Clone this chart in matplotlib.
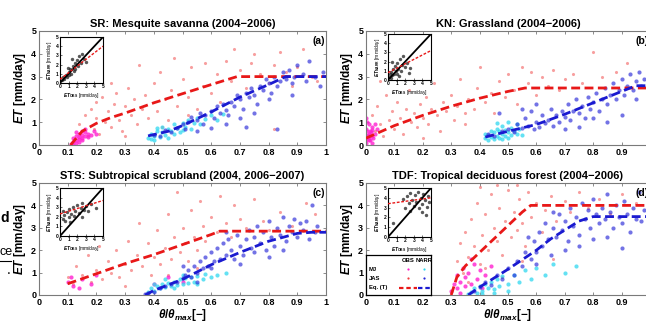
import matplotlib
matplotlib.use("Agg")
import matplotlib.pyplot as plt
from matplotlib.lines import Line2D

plt.rcParams['font.family'] = ['Liberation Sans', 'DejaVu Sans']
plt.rcParams['mathtext.fontset'] = 'custom'
plt.rcParams['mathtext.it'] = 'Liberation Sans:bold:italic'
plt.rcParams['mathtext.rm'] = 'Liberation Sans:bold'
plt.rcParams['mathtext.bf'] = 'Liberation Sans:bold'

titles = ["SR: Mesquite savanna (2004\u22122006)", "KN: Grassland (2004\u22122006)",
          "STS: Subtropical scrubland (2004, 2006\u22122007)", "TDF: Tropical deciduous forest (2004\u22122006)"]
panel_tags = ["(a)", "(b)", "(c)", "(d)"]
xticks = [0, 0.1, 0.2, 0.3, 0.4, 0.5, 0.6, 0.7, 0.8, 0.9, 1]
xticklabels = ["0", "0.1", "0.2", "0.3", "0.4", "0.5", "0.6", "0.7", "0.8", "0.9", "1"]
yticks = [0, 1, 2, 3, 4, 5]

# ---- SR ----
sr_obs_mj = [(0.11,0.05),(0.12,0.15),(0.12,0.3),(0.13,0.2),(0.13,0.4),(0.13,0.1),(0.14,0.35),(0.14,0.5),
             (0.14,0.25),(0.15,0.45),(0.15,0.3),(0.15,0.6),(0.16,0.4),(0.16,0.55),(0.17,0.35),(0.17,0.5),
             (0.18,0.45),(0.12,0.0),(0.14,0.15),(0.16,0.7),(0.13,0.55),(0.15,0.2),(0.19,0.6),(0.2,0.5)]
sr_obs_jas = [(0.14,0.9),(0.16,1.3),(0.17,0.4),(0.18,1.6),(0.19,0.7),(0.2,1.9),(0.2,1.2),(0.21,0.5),(0.22,2.1),
              (0.23,1.0),(0.24,1.5),(0.25,0.8),(0.26,1.8),(0.27,2.3),(0.28,1.1),(0.29,0.6),(0.3,1.7),(0.31,2.5),
              (0.32,1.3),(0.33,2.0),(0.34,0.9),(0.35,3.5),(0.36,1.6),(0.37,2.2),(0.38,1.2),(0.4,2.7),(0.41,1.5),
              (0.42,3.2),(0.44,2.0),(0.45,1.1),(0.46,2.4),(0.47,3.8),(0.48,1.7),(0.5,2.9),(0.52,2.1),(0.53,3.4),
              (0.55,1.6),(0.57,2.6),(0.58,3.6),(0.6,2.3),(0.62,3.1),(0.63,1.9),(0.65,3.7),(0.67,2.8),(0.68,4.2),
              (0.7,3.3),(0.72,2.5),(0.74,3.6),(0.75,4.0),(0.77,3.1),(0.8,2.7),(0.82,3.5),(0.84,4.1),(0.86,3.2),
              (0.88,2.6),(0.9,3.4),(0.92,4.2),(0.95,3.0),(0.97,2.8),(0.82,0.7),(0.3,0.4),(0.25,2.7),(0.43,0.8),(0.52,1.3)]
sr_narr_mj = [(0.38,0.3),(0.39,0.5),(0.4,0.2),(0.4,0.4),(0.41,0.6),(0.42,0.35),(0.43,0.55),(0.43,0.8),(0.44,0.45),
              (0.45,0.7),(0.45,0.3),(0.46,0.6),(0.47,0.9),(0.47,0.5),(0.48,0.75),(0.49,0.55),(0.5,0.95),(0.5,0.65),
              (0.51,0.8),(0.52,1.1),(0.53,0.7),(0.54,0.95),(0.55,1.2),(0.56,0.9),(0.58,1.15),(0.6,1.3),(0.62,1.1),
              (0.64,1.35),(0.41,0.75),(0.39,0.25)]
sr_narr_jas = [(0.4,0.45),(0.42,0.4),(0.44,0.65),(0.46,0.55),(0.48,0.75),(0.5,0.9),(0.51,0.7),(0.52,1.0),(0.53,1.25),
               (0.55,1.1),(0.56,1.4),(0.57,0.9),(0.58,1.3),(0.6,1.5),(0.61,1.2),(0.62,1.7),(0.63,1.4),(0.64,1.8),
               (0.65,1.55),(0.66,1.3),(0.67,1.9),(0.68,1.7),(0.69,2.2),(0.7,2.0),(0.71,1.6),(0.72,2.3),(0.73,2.1),
               (0.74,2.5),(0.75,2.2),(0.76,1.8),(0.77,2.6),(0.78,2.4),(0.79,2.9),(0.8,2.7),(0.81,2.3),(0.82,3.0),
               (0.83,2.6),(0.84,2.8),(0.85,3.2),(0.86,2.9),(0.87,3.3),(0.88,2.7),(0.89,3.0),(0.9,3.5),(0.92,3.1),
               (0.93,2.8),(0.94,3.7),(0.96,3.0),(0.98,2.6),(0.99,3.2),(0.65,0.9),(0.72,0.8),(0.6,0.75),(0.55,0.6),
               (0.75,1.4),(0.83,0.7),(0.7,1.2),(0.8,2.0),(0.88,2.2)]
sr_eq_obs_x = [0.11, 0.15, 0.2, 0.25, 0.3, 0.4, 0.5, 0.6, 0.69, 1.0]
sr_eq_obs_y = [0.0, 0.6, 0.95, 1.2, 1.4, 1.85, 2.25, 2.65, 3.0, 3.0]
sr_eq_narr_x = [0.38, 0.45, 0.5, 0.55, 0.6, 0.7, 0.8, 0.86, 1.0]
sr_eq_narr_y = [0.4, 0.6, 0.85, 1.15, 1.45, 2.1, 2.65, 3.0, 3.0]
sr_inset = [(0.2,0.3),(0.4,0.6),(0.5,0.4),(0.7,0.9),(0.8,0.6),(1.0,1.2),(1.1,0.9),(1.2,1.5),(1.3,1.0),(1.5,1.8),
            (1.6,1.3),(1.7,2.2),(1.8,1.5),(2.0,2.5),(2.1,1.8),(2.2,2.9),(2.4,2.2),(2.6,3.2),(2.8,2.6),(3.0,2.3),
            (1.4,2.6),(0.9,1.6)]
sr_fit_x = [0, 5]
sr_fit_y = [0.4, 4.0]

# ---- KN ----
kn_obs_mj = [(0.0,0.1),(0.005,0.3),(0.01,0.5),(0.0,0.7),(0.015,0.2),(0.02,0.4),(0.01,0.9),(0.005,0.6),(0.02,0.8),
             (0.025,0.3),(0.0,0.4),(0.01,0.2),(0.015,0.6),(0.005,1.0),(0.02,0.1),(0.03,0.5),(0.0,0.2),(0.012,0.35),
             (0.018,0.55),(0.008,0.45),(0.04,0.7),(0.03,0.9),(0.0,1.2),(0.02,0.65)]
kn_obs_jas = [(0.02,1.3),(0.03,0.6),(0.04,1.7),(0.05,0.9),(0.06,0.4),(0.07,2.2),(0.08,1.1),(0.09,1.5),(0.1,0.7),
              (0.11,1.9),(0.12,1.2),(0.13,0.5),(0.14,1.6),(0.15,2.4),(0.16,1.0),(0.17,1.4),(0.18,0.8),(0.19,1.8),
              (0.2,1.2),(0.21,2.1),(0.22,0.9),(0.23,1.6),(0.24,2.7),(0.25,1.3),(0.26,0.6),(0.27,1.9),(0.28,1.5),
              (0.3,2.2),(0.31,1.1),(0.32,1.7),(0.33,2.9),(0.35,1.4),(0.36,2.0),(0.38,1.6),(0.39,2.5),(0.4,3.4),
              (0.42,1.9),(0.44,2.3),(0.45,1.4),(0.47,2.8),(0.49,2.1),(0.5,3.1),(0.52,2.4),(0.53,1.8),(0.55,3.4),
              (0.57,2.7),(0.58,3.2),(0.6,2.2),(0.62,3.0),(0.64,2.6),(0.66,3.3),(0.68,2.4),(0.7,2.9),(0.73,3.1),
              (0.76,2.7),(0.8,4.1),(0.83,3.0),(0.88,3.2),(0.92,3.6),(0.05,2.8),(0.12,3.1),(0.2,0.3),(0.35,0.9)]
kn_narr_mj = [(0.42,0.3),(0.43,0.2),(0.43,0.45),(0.44,0.35),(0.45,0.25),(0.45,0.55),(0.46,0.4),(0.46,0.7),(0.47,0.3),
              (0.47,0.6),(0.48,0.5),(0.48,0.85),(0.49,0.4),(0.49,0.65),(0.5,0.55),(0.5,0.3),(0.51,0.75),(0.51,0.45),
              (0.52,0.6),(0.53,0.9),(0.53,0.5),(0.54,0.7),(0.55,0.45),(0.44,0.6),(0.46,0.95),(0.5,1.0),(0.42,0.5),(0.48,0.25)]
kn_narr_jas = [(0.43,0.5),(0.45,0.4),(0.47,1.4),(0.48,0.6),(0.5,0.7),(0.52,0.55),(0.53,0.9),(0.55,0.75),(0.56,1.2),
               (0.57,0.85),(0.58,1.5),(0.59,0.7),(0.6,1.0),(0.61,0.8),(0.62,1.3),(0.63,0.95),(0.64,1.1),(0.65,1.6),
               (0.66,0.85),(0.67,1.3),(0.68,1.0),(0.69,1.5),(0.7,1.25),(0.71,1.8),(0.72,1.1),(0.73,1.5),(0.74,2.0),
               (0.75,1.4),(0.76,1.7),(0.77,1.2),(0.78,2.1),(0.79,1.6),(0.8,1.9),(0.81,2.3),(0.82,1.5),(0.83,2.0),
               (0.84,2.5),(0.85,1.8),(0.86,2.2),(0.87,2.7),(0.88,2.0),(0.89,2.4),(0.9,2.9),(0.91,2.2),(0.92,2.6),
               (0.93,3.1),(0.94,2.4),(0.95,2.8),(0.96,3.2),(0.97,2.6),(0.98,2.9),(0.9,1.3),(0.85,1.0),(0.75,0.8),
               (0.55,1.6),(0.6,1.8),(0.7,0.7),(0.8,1.2),(0.95,2.0)]
kn_eq_obs_x = [0.0, 0.1, 0.2, 0.3, 0.4, 0.5, 0.56, 1.0]
kn_eq_obs_y = [0.3, 0.85, 1.3, 1.7, 2.05, 2.35, 2.5, 2.5]
kn_eq_narr_x = [0.42, 0.5, 0.6, 0.7, 0.8, 0.9, 0.95, 1.0]
kn_eq_narr_y = [0.35, 0.6, 0.9, 1.35, 1.85, 2.35, 2.6, 2.6]
kn_inset = [(0.1,0.3),(0.2,0.6),(0.3,0.2),(0.4,0.9),(0.5,0.5),(0.6,1.2),(0.7,0.7),(0.8,1.5),(0.9,1.0),(1.0,0.6),
            (1.1,1.8),(1.2,1.2),(1.4,2.3),(1.5,1.0),(1.6,1.6),(1.8,2.6),(2.0,1.4),(2.2,1.9),(2.4,0.8),(2.6,1.3),
            (1.3,0.4),(0.5,2.0)]
kn_fit_x = [0, 5]
kn_fit_y = [0.8, 3.2]

# ---- STS ----
sts_obs_mj = [(0.1,0.6),(0.12,0.4),(0.15,0.7),(0.11,0.8),(0.18,0.5),(0.14,0.3),(0.2,0.9),(0.4,0.5),(0.45,0.8),(0.5,0.6)]
sts_obs_jas = [(0.1,0.8),(0.12,0.5),(0.13,1.3),(0.15,0.9),(0.17,1.8),(0.18,0.6),(0.2,1.1),(0.21,2.2),(0.22,0.7),
               (0.24,1.5),(0.25,1.0),(0.27,2.0),(0.28,0.8),(0.3,1.4),(0.31,2.4),(0.32,1.1),(0.34,1.8),(0.35,3.2),
               (0.36,1.3),(0.38,2.3),(0.39,0.9),(0.4,1.7),(0.41,2.9),(0.42,1.4),(0.44,2.1),(0.45,3.6),(0.46,1.6),
               (0.47,2.6),(0.48,4.6),(0.49,1.9),(0.5,3.0),(0.51,2.3),(0.52,1.5),(0.53,3.8),(0.54,2.6),(0.55,2.0),
               (0.56,4.2),(0.57,3.1),(0.58,2.4),(0.6,3.5),(0.62,2.8),(0.63,4.4),(0.65,3.2),(0.67,2.6),(0.68,4.0),
               (0.7,3.4),(0.72,3.0),(0.75,4.3),(0.78,3.3),(0.8,2.9),(0.84,3.7),(0.88,3.1),(0.93,4.1),(0.96,3.6),
               (0.3,0.4),(0.45,0.9),(0.2,2.8),(0.55,1.2)]
sts_narr_mj = [(0.38,0.15),(0.39,0.3),(0.4,0.2),(0.41,0.4),(0.42,0.3),(0.43,0.5),(0.44,0.35),(0.45,0.55),(0.46,0.4),
               (0.47,0.6),(0.48,0.45),(0.49,0.7),(0.5,0.5),(0.51,0.75),(0.52,0.55),(0.53,0.8),(0.54,0.6),(0.55,0.85),
               (0.57,0.7),(0.58,0.95),(0.6,0.8),(0.62,0.9),(0.44,0.7),(0.4,0.5),(0.47,0.3),(0.5,0.9),(0.55,0.5),(0.65,1.0)]
sts_narr_jas = [(0.37,0.05),(0.38,0.1),(0.4,0.15),(0.42,0.3),(0.44,0.4),(0.46,0.5),(0.48,0.6),(0.5,0.75),(0.51,0.9),
                (0.52,1.1),(0.53,0.8),(0.54,1.3),(0.55,1.0),(0.56,1.5),(0.57,1.2),(0.58,1.7),(0.59,1.3),(0.6,1.9),
                (0.61,1.5),(0.62,2.1),(0.63,1.6),(0.64,2.3),(0.65,1.8),(0.66,2.5),(0.67,2.0),(0.68,1.6),(0.69,2.7),
                (0.7,2.2),(0.71,1.8),(0.72,2.5),(0.73,2.9),(0.74,2.1),(0.75,2.6),(0.76,3.1),(0.77,2.3),(0.78,2.8),
                (0.79,2.0),(0.8,3.3),(0.81,2.6),(0.82,2.2),(0.83,3.0),(0.84,2.7),(0.85,3.5),(0.86,2.4),(0.87,3.1),
                (0.88,2.8),(0.89,3.4),(0.9,2.6),(0.91,3.2),(0.92,2.9),(0.93,3.3),(0.94,2.5),(0.95,4.0),(0.96,2.8),
                (0.97,3.1),(0.6,1.2),(0.65,2.8),(0.7,1.4),(0.75,1.9),(0.8,1.7),(0.85,2.0),(0.55,0.6),(0.5,1.3)]
sts_eq_obs_x = [0.1, 0.2, 0.3, 0.4, 0.5, 0.6, 0.63, 1.0]
sts_eq_obs_y = [0.5, 0.95, 1.4, 1.8, 2.25, 2.7, 2.85, 2.85]
sts_eq_narr_x = [0.37, 0.4, 0.45, 0.5, 0.6, 0.7, 0.8, 0.9, 0.95, 1.0]
sts_eq_narr_y = [0.0, 0.2, 0.45, 0.7, 1.35, 1.9, 2.4, 2.75, 2.8, 2.8]
sts_inset = [(0.3,1.8),(0.5,2.2),(0.6,1.6),(0.8,2.5),(1.0,2.0),(1.1,2.8),(1.3,2.3),(1.5,3.0),(1.6,2.1),(1.8,2.6),
             (2.0,3.2),(2.2,2.4),(2.4,2.9),(2.6,3.4),(2.8,2.7),(3.0,3.1),(3.3,2.6),(3.6,3.3),(0.4,2.6),(1.2,1.5),
             (2.5,2.0),(4.2,2.9)]
sts_fit_x = [0, 5]
sts_fit_y = [2.3, 3.7]

# ---- TDF ----
tdf_obs_mj = [(0.3,0.2),(0.31,0.5),(0.32,0.3),(0.32,0.9),(0.33,0.6),(0.34,1.2),(0.35,0.4),(0.35,0.8),(0.36,1.0),
              (0.37,0.5),(0.38,1.4),(0.39,0.7),(0.4,1.1),(0.41,0.3),(0.42,0.9),(0.33,0.1),(0.37,1.6),(0.44,1.3)]
tdf_obs_jas = [(0.32,1.5),(0.33,2.3),(0.34,1.0),(0.35,2.8),(0.36,1.7),(0.37,3.4),(0.38,2.2),(0.39,4.1),(0.4,1.4),
               (0.41,2.7),(0.42,3.6),(0.43,2.0),(0.44,4.5),(0.45,3.0),(0.46,2.4),(0.47,3.9),(0.48,1.8),(0.49,3.3),
               (0.5,4.7),(0.51,2.6),(0.52,3.7),(0.53,2.9),(0.54,4.3),(0.55,3.2),(0.56,2.2),(0.57,4.6),(0.58,3.5),
               (0.6,4.1),(0.62,2.8),(0.63,3.8),(0.65,4.4),(0.67,3.3),(0.7,4.2),(0.72,3.7),(0.75,4.6),(0.78,3.9),
               (0.82,4.3),(0.86,3.6),(0.9,4.5),(0.95,4.1),(0.36,0.6),(0.42,1.2),(0.48,0.8),(0.55,1.5),(0.6,2.0),
               (0.66,1.6),(0.4,4.8),(0.46,4.9),(0.53,4.9)]
tdf_narr_mj = [(0.36,0.05),(0.37,0.15),(0.38,0.3),(0.39,0.1),(0.4,0.4),(0.41,0.2),(0.42,0.5),(0.43,0.3),(0.44,0.6),
               (0.45,0.25),(0.46,0.7),(0.47,0.4),(0.48,0.85),(0.5,0.5),(0.52,0.9),(0.54,0.6),(0.56,1.1),(0.58,0.7),
               (0.6,1.2),(0.63,0.9),(0.66,1.4),(0.7,1.0),(0.74,1.3),(0.41,0.05),(0.45,0.1),(0.5,0.2)]
tdf_narr_jas = [(0.38,0.2),(0.4,0.35),(0.42,0.6),(0.44,0.45),(0.46,0.9),(0.48,0.7),(0.5,1.2),(0.52,0.9),(0.53,1.5),
                (0.55,1.3),(0.56,1.9),(0.58,1.6),(0.59,2.4),(0.6,1.9),(0.61,2.8),(0.62,2.2),(0.63,3.2),(0.64,2.5),
                (0.65,1.8),(0.66,3.0),(0.67,2.6),(0.68,3.6),(0.69,2.9),(0.7,3.3),(0.71,2.4),(0.72,3.9),(0.73,3.1),
                (0.74,3.5),(0.75,2.7),(0.76,4.1),(0.77,3.4),(0.78,3.8),(0.79,3.0),(0.8,4.3),(0.81,3.6),(0.82,3.2),
                (0.83,3.9),(0.84,3.4),(0.85,4.5),(0.86,3.7),(0.87,3.0),(0.88,4.0),(0.89,3.5),(0.9,3.2),(0.91,4.2),
                (0.92,3.6),(0.93,2.8),(0.94,3.9),(0.95,3.4),(0.96,4.6),(0.97,3.3),(0.98,3.8),(0.7,2.0),(0.75,2.2),
                (0.8,2.5),(0.85,2.6),(0.9,2.1),(0.57,2.6),(0.6,1.4),(0.66,3.7)]
tdf_eq_obs_x = [0.3, 0.32, 0.35, 0.4, 0.45, 0.5, 0.55, 0.58, 1.0]
tdf_eq_obs_y = [0.0, 0.8, 1.3, 1.9, 2.5, 3.1, 3.7, 4.0, 4.0]
tdf_eq_narr_x = [0.36, 0.4, 0.5, 0.6, 0.65, 0.7, 0.75, 0.8, 1.0]
tdf_eq_narr_y = [0.0, 0.35, 1.15, 2.0, 2.5, 2.9, 3.3, 3.5, 3.5]
tdf_inset = [(0.6,1.4),(1.8,3.9),(2.0,3.0),(2.2,4.2),(2.4,3.5),(2.6,4.5),(2.8,3.8),(3.0,3.2),(3.1,4.3),(3.3,3.6),
             (3.5,4.6),(3.6,3.0),(3.8,4.0),(4.0,3.4),(4.1,4.4),(4.3,3.8),(4.5,3.1),(4.6,4.2),(4.8,3.6),(2.5,2.7),
             (3.9,2.6),(4.4,2.2)]
tdf_fit_x = [0, 5]
tdf_fit_y = [3.4, 4.0]
inset_ticks = [0, 1, 2, 3, 4, 5]

C_MJ_OBS = '#ff20d0'
C_JAS_OBS = '#f04040'
C_MJ_NARR = '#30d8f0'
C_JAS_NARR = '#2828d8'
C_EQ_OBS = '#e81818'
C_EQ_NARR = '#1a1ad0'
GRAY = '#7a7a7a'

W, H = 646.0, 323.0
def fr(x, y, w, h):
    return [x / W, 1 - (y + h) / H, w / W, h / H]

fig = plt.figure(figsize=(6.46, 3.23), dpi=100)
main_rects = [fr(39, 31, 287, 114), fr(366, 31, 284, 114), fr(39, 183, 287, 112), fr(366, 183, 284, 112)]
inset_rects = [fr(60, 37, 43, 46), fr(388, 34, 43, 46), fr(60, 188, 43, 48), fr(388, 188, 43, 49)]

panels = [
    (sr_obs_mj, sr_obs_jas, sr_narr_mj, sr_narr_jas, sr_eq_obs_x, sr_eq_obs_y, sr_eq_narr_x, sr_eq_narr_y, sr_inset, sr_fit_x, sr_fit_y),
    (kn_obs_mj, kn_obs_jas, kn_narr_mj, kn_narr_jas, kn_eq_obs_x, kn_eq_obs_y, kn_eq_narr_x, kn_eq_narr_y, kn_inset, kn_fit_x, kn_fit_y),
    (sts_obs_mj, sts_obs_jas, sts_narr_mj, sts_narr_jas, sts_eq_obs_x, sts_eq_obs_y, sts_eq_narr_x, sts_eq_narr_y, sts_inset, sts_fit_x, sts_fit_y),
    (tdf_obs_mj, tdf_obs_jas, tdf_narr_mj, tdf_narr_jas, tdf_eq_obs_x, tdf_eq_obs_y, tdf_eq_narr_x, tdf_eq_narr_y, tdf_inset, tdf_fit_x, tdf_fit_y),
]

def xy(pts):
    return [p[0] for p in pts], [p[1] for p in pts]

for i, (omj, ojas, nmj, njas, eox, eoy, enx, eny, ins, fx, fy) in enumerate(panels):
    ax = fig.add_axes(main_rects[i])
    x, y = xy(ojas); ax.scatter(x, y, s=5, c=C_JAS_OBS, alpha=0.5, linewidths=0, zorder=2)
    x, y = xy(omj); ax.scatter(x, y, s=9, c=C_MJ_OBS, alpha=0.8, linewidths=0, zorder=2)
    x, y = xy(nmj); ax.scatter(x, y, s=9, c=C_MJ_NARR, alpha=0.75, linewidths=0, zorder=2)
    x, y = xy(njas); ax.scatter(x, y, s=9, c=C_JAS_NARR, alpha=0.65, linewidths=0, zorder=2)
    ax.plot(eox, eoy, color=C_EQ_OBS, lw=2.0, dashes=(3.2, 1.6), zorder=3)
    ax.plot(enx, eny, color=C_EQ_NARR, lw=2.0, dashes=(3.2, 1.6), zorder=3)
    ax.set_xlim(0, 1)
    ax.set_ylim(0, 5)
    ax.set_xticks(xticks)
    ax.set_xticklabels(xticklabels, fontsize=6.5, fontweight='bold')
    ax.set_yticks(yticks)
    ax.set_yticklabels([str(v) for v in yticks], fontsize=6.5, fontweight='bold')
    ax.tick_params(direction='in', top=True, right=True, length=2.5, width=0.6, color=GRAY, pad=2)
    for sp in ax.spines.values():
        sp.set_color(GRAY)
        sp.set_linewidth(0.8)
    ax.set_title(titles[i], fontsize=8, fontweight='bold', pad=3)
    ax.set_ylabel(r'$ET$ [mm/day]', fontsize=8.5, fontweight='bold', labelpad=2)
    if i >= 2:
        ax.set_xlabel(r'$\theta/\theta_{max}$' + '[\u2212]', fontsize=8.5, fontweight='bold', labelpad=0)
    ax.text(0.996, 0.955, panel_tags[i], transform=ax.transAxes, ha='right', va='top',
            fontsize=7.5, fontweight='bold')

    ia = fig.add_axes(inset_rects[i])
    x, y = xy(ins)
    ia.scatter(x, y, s=6, c='#202020', alpha=0.75, linewidths=0, zorder=2)
    ia.plot([0, 5], [0, 5], color='black', lw=1.3, zorder=3)
    ia.plot(fx, fy, color=C_EQ_OBS, lw=1.0, dashes=(2, 1.2), zorder=4)
    ia.set_xlim(0, 5)
    ia.set_ylim(0, 5)
    ia.set_xticks(inset_ticks)
    ia.set_yticks(inset_ticks)
    ia.set_xticklabels([str(v) for v in inset_ticks], fontsize=3.5, fontweight='bold')
    ia.set_yticklabels([str(v) for v in inset_ticks], fontsize=3.5, fontweight='bold')
    ia.tick_params(direction='in', length=1.2, width=0.4, pad=1)
    for sp in ia.spines.values():
        sp.set_linewidth(0.8)
    ia.set_xlabel(r'$ET_{\mathrm{OBS}}$ [mm/day]', fontsize=3.5, labelpad=1)
    ia.set_ylabel(r'$ET_{\mathrm{NARR}}$ [mm/day]', fontsize=3.5, labelpad=1)

# legend in panel (d)
lg = fig.add_axes(fr(366, 255, 65, 40))
lg.set_xlim(0, 1)
lg.set_ylim(0, 1)
lg.set_xticks([])
lg.set_yticks([])
for sp in lg.spines.values():
    sp.set_linewidth(0.9)
    sp.set_color('black')
lfs = 4.2
lg.text(0.65, 0.86, 'OBS', ha='center', va='center', fontsize=lfs, fontweight='bold')
lg.text(0.89, 0.86, 'NARR', ha='center', va='center', fontsize=lfs, fontweight='bold')
lg.text(0.04, 0.64, 'MJ', ha='left', va='center', fontsize=lfs, fontweight='bold')
lg.text(0.04, 0.42, 'JAS', ha='left', va='center', fontsize=lfs, fontweight='bold')
lg.text(0.04, 0.18, 'Eq. (T)', ha='left', va='center', fontsize=lfs, fontweight='bold')
lg.add_line(Line2D([0.65], [0.64], marker='o', ms=1.6, mew=0, color=C_MJ_OBS, ls='none'))
lg.add_line(Line2D([0.89], [0.64], marker='o', ms=1.6, mew=0, color=C_MJ_NARR, ls='none'))
lg.add_line(Line2D([0.65], [0.42], marker='o', ms=1.6, mew=0, color=C_JAS_OBS, ls='none'))
lg.add_line(Line2D([0.89], [0.42], marker='o', ms=1.6, mew=0, color=C_JAS_NARR, ls='none'))
lg.add_line(Line2D([0.5, 0.79], [0.18, 0.18], color=C_EQ_OBS, lw=1.6, dashes=(2, 1.3)))
lg.add_line(Line2D([0.8, 1.0], [0.18, 0.18], color=C_EQ_NARR, lw=1.6, dashes=(2, 1.3)))

# stray text from the surrounding page
fig.text(0.0, 1 - 218 / H, 'd', fontsize=10, fontweight='bold', ha='left', va='center')
fig.text(0.0, 1 - 252 / H, 'ce', fontsize=9, ha='left', va='center')
fig.add_artist(Line2D([0, 11 / W], [1 - 261 / H, 1 - 261 / H], color='black', lw=0.8))
fig.text(7 / W, 1 - 270 / H, '.', fontsize=10, ha='left', va='center')

fig.savefig('out.png', dpi=100)
